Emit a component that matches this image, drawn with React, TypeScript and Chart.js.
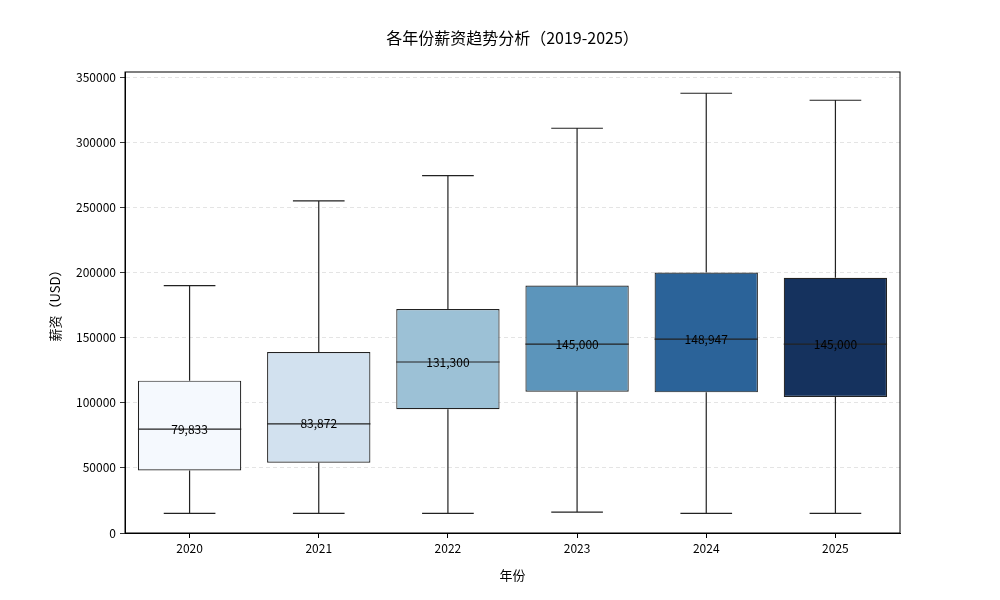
import React, { useEffect, useRef } from "react";
import { Chart, registerables } from "chart.js";

Chart.register(...registerables);

const years = ["2020", "2021", "2022", "2023", "2024", "2025"];
const whiskerLow = [15000, 15000, 15000, 16000, 15000, 15000];
const q1 = [48000, 54000, 95000, 108500, 108000, 104500];
const medians = [79833, 83872, 131300, 145000, 148947, 145000];
const q3 = [117000, 139000, 172000, 190000, 200000, 196000];
const whiskerHigh = [190000, 255000, 274500, 310800, 337700, 332300];
const boxColors = ["#f5f9fe", "#d2e1ef", "#9cc1d6", "#5c95bb", "#2b6399", "#15325e"];
const yTicks = [0, 50000, 100000, 150000, 200000, 250000, 300000, 350000];

const FONT = "'Noto Sans CJK SC', 'DejaVu Sans', sans-serif";
const LINE = "#222222";

// whiskers, caps, medians and the labels, all placed through the scales
const boxPlotPlugin = {
  id: "boxExtras",
  afterDatasetsDraw(chart: any) {
    const { ctx, scales, chartArea } = chart;
    const y = scales.y;
    const meta = chart.getDatasetMeta(0);
    ctx.save();
    ctx.strokeStyle = LINE;
    ctx.lineWidth = 1.2;
    meta.data.forEach((bar: any, i: number) => {
      const cx = bar.x;
      const half = bar.width / 2;
      const capHalf = half / 2;
      const yHi = y.getPixelForValue(whiskerHigh[i]);
      const yLo = y.getPixelForValue(whiskerLow[i]);
      const yQ1 = y.getPixelForValue(q1[i]);
      const yQ3 = y.getPixelForValue(q3[i]);
      const yMed = y.getPixelForValue(medians[i]);
      ctx.beginPath();
      ctx.moveTo(cx, yQ3);
      ctx.lineTo(cx, yHi);
      ctx.moveTo(cx - capHalf, yHi);
      ctx.lineTo(cx + capHalf, yHi);
      ctx.moveTo(cx, yQ1);
      ctx.lineTo(cx, yLo);
      ctx.moveTo(cx - capHalf, yLo);
      ctx.lineTo(cx + capHalf, yLo);
      ctx.moveTo(cx - half, yMed);
      ctx.lineTo(cx + half, yMed);
      ctx.stroke();
    });
    ctx.fillStyle = "#000";
    ctx.font = `12px ${FONT}`;
    ctx.textAlign = "center";
    ctx.textBaseline = "middle";
    meta.data.forEach((bar: any, i: number) => {
      ctx.fillText(medians[i].toLocaleString("en-US"), bar.x, y.getPixelForValue(medians[i]));
    });
    // frame round the plot
    ctx.strokeStyle = "#000";
    ctx.lineWidth = 1;
    ctx.strokeRect(chartArea.left, chartArea.top, chartArea.right - chartArea.left, chartArea.bottom - chartArea.top);
    ctx.restore();
  },
};

const BoxChart: React.FC = () => {
  const canvasRef = useRef<HTMLCanvasElement>(null);

  useEffect(() => {
    document.body.style.margin = "0";
    let chart: Chart | null = null;
    const ctx = canvasRef.current?.getContext("2d");
    if (ctx) {
      Chart.defaults.font.family = FONT;
      Chart.defaults.color = "#000";
      chart = new Chart(ctx, {
        type: "bar",
        data: {
          labels: years,
          datasets: [
            {
              label: "薪资",
              data: years.map((_, i) => [q1[i], q3[i]]) as any,
              backgroundColor: boxColors,
              borderColor: LINE,
              borderWidth: 1.2,
              borderSkipped: false,
              barPercentage: 0.8,
              categoryPercentage: 1,
            },
          ],
        },
        options: {
          responsive: false,
          animation: false,
          layout: { padding: { left: 25, right: 0, top: 0, bottom: 0 } },
          plugins: {
            legend: { display: false },
            tooltip: { enabled: false },
            title: {
              display: true,
              text: "各年份薪资趋势分析（2019-2025）",
              color: "#000",
              font: { size: 16, weight: "normal" },
              padding: { top: 28, bottom: 24.8 },
            },
          },
          scales: {
            x: {
              offset: true,
              grid: {
                offset: false,
                drawOnChartArea: false,
                drawTicks: true,
                tickLength: 5,
                tickColor: "#000",
              },
              border: { color: "#000", width: 1 },
              ticks: { font: { size: 12 }, padding: 3, color: "#000" },
              title: {
                display: true,
                text: "年份",
                font: { size: 13 },
                color: "#000",
                padding: { top: 4, bottom: 17 },
              },
              afterFit: (s: any) => {
                s.height = 67;
              },
            },
            y: {
              min: 0,
              max: 354000,
              grid: {
                color: "#dddddd",
                lineWidth: 0.8,
                tickLength: 5,
                tickColor: "#000",
                tickBorderDash: [],
              },
              border: { color: "#000", width: 1, dash: [4, 3] },
              ticks: {
                font: { size: 12 },
                padding: 4,
                color: "#000",
                callback: (v: any) => String(v),
              },
              afterBuildTicks: (s: any) => {
                s.ticks = yTicks.map((v) => ({ value: v }));
              },
              title: {
                display: true,
                text: "薪资（USD）",
                font: { size: 13 },
                color: "#000",
                padding: { top: 22, bottom: 4 },
              },
              afterFit: (s: any) => {
                s.width = 100;
              },
            },
            // empty right-hand strip so the plot ends at x=900
            spacer: {
              type: "linear",
              position: "right",
              display: true,
              grid: { display: false },
              border: { display: false },
              ticks: { display: false },
              afterFit: (s: any) => {
                s.width = 100;
              },
            },
          },
        },
        plugins: [boxPlotPlugin],
      });
    }
    return () => {
      if (chart) chart.destroy();
    };
  }, []);

  return (
    <div style={{ width: 1000, height: 600 }}>
      <canvas ref={canvasRef} width={1000} height={600} />
    </div>
  );
};

export default function App() {
  return <BoxChart />;
}
